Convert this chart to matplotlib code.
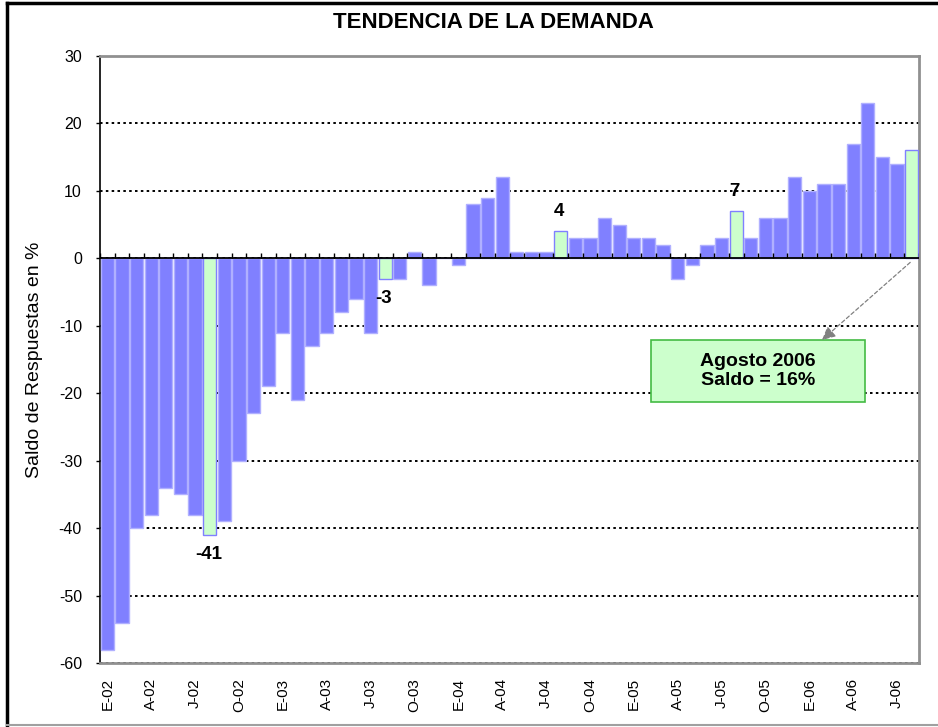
import matplotlib
matplotlib.use("Agg")
import matplotlib.pyplot as plt
from matplotlib.lines import Line2D
from matplotlib.patches import Rectangle

plt.rcParams['font.family'] = ['Liberation Sans', 'DejaVu Sans']
plt.rcParams['axes.unicode_minus'] = False

# ---- data -------------------------------------------------------------
month_letters = ['E', 'F', 'M', 'A', 'M', 'J', 'J', 'A', 'S', 'O', 'N', 'D']
years = ['02', '03', '04', '05', '06']
values = [
    -58, -54, -40, -38, -34, -35, -38, -41, -39, -30, -23, -19,   # 2002
    -11, -21, -13, -11, -8, -6, -11, -3, -3, 1, -4, 0,            # 2003
    -1, 8, 9, 12, 1, 1, 1, 4, 3, 3, 6, 5,                         # 2004
    3, 3, 2, -3, -1, 2, 3, 7, 3, 6, 6, 12,                        # 2005
    10, 11, 11, 17, 23, 15, 14, 16,                               # 2006 (to Aug)
]
labels = [f"{month_letters[i % 12]}-{years[i // 12]}" for i in range(len(values))]
highlight_month = 7          # August highlighted each year
label_step = 3
y_ticks = [30, 20, 10, 0, -10, -20, -30, -40, -50, -60]
title = "TENDENCIA DE LA DEMANDA"
ylabel = "Saldo de Respuestas en %"
box_text = "Agosto 2006\nSaldo = 16%"

# ---- figure -----------------------------------------------------------
W, H = 938, 727
fig = plt.figure(figsize=(W / 100, H / 100), dpi=100)
ax_l, ax_r, ax_t, ax_b = 100, 919, 56, 663
ax = fig.add_axes([ax_l / W, 1 - ax_b / H, (ax_r - ax_l) / W, (ax_b - ax_t) / H])

n = len(values)
x = list(range(n))
is_hl = [(i % 12) == highlight_month for i in x]
faces = ['#ccffcc' if h else '#8080ff' for h in is_hl]
edges = ['#8080ff' if h else '#b0b0ff' for h in is_hl]
ax.bar(x, values, width=0.9, color=faces, edgecolor=edges, linewidth=1.0, zorder=3)

ax.set_xlim(-0.5, n - 0.5)
ax.set_ylim(-60, 30)

# grid
ax.set_yticks(y_ticks)
ax.yaxis.grid(True, color='black', linestyle=(0, (1.3, 1.7)), linewidth=1.4, zorder=0)
ax.set_axisbelow(True)
ax.axhline(0, color='black', linewidth=1.3, zorder=4)

# small category ticks at zero line
px_per_unit = (ax_b - ax_t) / 90.0
tick_len = 5 / px_per_unit
bounds = [i - 0.5 for i in range(n + 1)]
ax.vlines(bounds, 0, tick_len, colors='black', linewidth=1.0, zorder=4)

# x tick labels
ax.set_xticks(x[::label_step])
ax.set_xticklabels(labels[::label_step], rotation=90, fontsize=11)
ax.tick_params(axis='x', length=0, pad=11)
ax.tick_params(axis='y', length=3, width=1, direction='out', pad=10, labelsize=11.5)

# spines
for s in ['top', 'right', 'bottom']:
    ax.spines[s].set_color('#909090')
    ax.spines[s].set_linewidth(2.0)
ax.spines['left'].set_color('black')
ax.spines['left'].set_linewidth(1.2)

ax.set_ylabel(ylabel, fontsize=14)
ax.yaxis.set_label_coords(-0.069, 0.5)

# value labels on highlighted bars (except the last one, annotated by box)
for i in x[:-1]:
    if is_hl[i]:
        v = values[i]
        off = 14 if v > 0 else -14
        ax.annotate(f"{v}", xy=(i, v), xytext=(-1, off), textcoords='offset points',
                    ha='center', va='center', fontsize=13.5, fontweight='bold', zorder=6)

# annotation box for the last value
bx0, bx1 = (651 - ax_l) / (ax_r - ax_l), (865 - ax_l) / (ax_r - ax_l)
by0, by1 = (ax_b - 402) / (ax_b - ax_t), (ax_b - 340) / (ax_b - ax_t)
ax.add_patch(Rectangle((bx0, by0), bx1 - bx0, by1 - by0, transform=ax.transAxes,
                       facecolor='#ccffcc', edgecolor='#44bb44', linewidth=1.2, zorder=7))
ax.text((bx0 + bx1) / 2, (by0 + by1) / 2, box_text, transform=ax.transAxes,
        ha='center', va='center', fontsize=14, fontweight='bold',
        linespacing=1.15, zorder=8)
ax.annotate("", xy=((822 - ax_l) / (ax_r - ax_l), by1), xycoords='axes fraction',
            xytext=(x[-1] - 0.1, -0.6), textcoords='data',
            arrowprops=dict(arrowstyle='-|>,head_length=0.8,head_width=0.4',
                            color='#808080', linestyle=(0, (3, 2)), linewidth=0.9,
                            shrinkA=0, shrinkB=0), zorder=8)

# title
fig.text(493 / W, 1 - 22 / H, title, ha='center', va='center',
         fontsize=16, fontweight='bold')

# outer frame
fig.add_artist(Line2D([7 / W, 7 / W], [0, 1 - 3 / H], transform=fig.transFigure,
                      color='black', linewidth=2.5))
fig.add_artist(Line2D([7 / W, 1], [1 - 3 / H, 1 - 3 / H], transform=fig.transFigure,
                      color='black', linewidth=2.5))
fig.add_artist(Line2D([7 / W, 1], [2 / H, 2 / H], transform=fig.transFigure,
                      color='#a0a0a0', linewidth=1.5))

fig.savefig("out.png", dpi=100)
